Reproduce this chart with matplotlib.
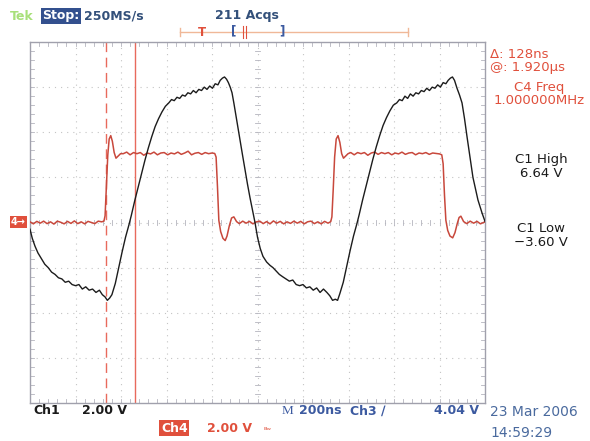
import matplotlib
matplotlib.use("Agg")
import matplotlib.pyplot as plt
import numpy as np

# ---------------- data (time in ns, voltage in V) ----------------
ch1_points = [
    (0, -0.3), (10, -0.7), (22, -1.05), (35, -1.35), (50, -1.6), (65, -1.85), (80, -2.0),
    (95, -2.2), (110, -2.3), (125, -2.45), (140, -2.5), (155, -2.65), (170, -2.6),
    (185, -2.75), (200, -2.8), (215, -2.75), (230, -2.95), (245, -2.85), (260, -3.0),
    (275, -2.95), (290, -3.1), (305, -3.0), (318, -3.2), (330, -3.3), (340, -3.45),
    (350, -3.35), (360, -3.2), (375, -2.7), (390, -2.0), (405, -1.3), (420, -0.65),
    (435, -0.1), (445, 0.3), (460, 0.95), (475, 1.55), (490, 2.15), (505, 2.75),
    (520, 3.3), (535, 3.8), (550, 4.25), (565, 4.6), (580, 4.9), (595, 5.15), (610, 5.3),
    (622, 5.45), (634, 5.4), (646, 5.55), (658, 5.5), (670, 5.65), (682, 5.6), (694, 5.75),
    (706, 5.7), (718, 5.85), (730, 5.75), (742, 5.9), (754, 5.85), (766, 6.0), (778, 5.9),
    (790, 6.05), (802, 5.95), (814, 6.15), (826, 6.1), (836, 6.3), (846, 6.4), (855, 6.45),
    (864, 6.35), (872, 6.2), (880, 6.0), (888, 5.75), (896, 5.3), (905, 4.75), (914, 4.2),
    (923, 3.65), (934, 3.0), (945, 2.35), (956, 1.7), (967, 1.1), (978, 0.55), (989, 0.0),
    (1000, -0.65), (1012, -1.15), (1024, -1.5), (1040, -1.75), (1055, -1.9), (1068, -2.0),
    (1082, -2.15), (1096, -2.3), (1110, -2.4), (1125, -2.5), (1140, -2.6), (1155, -2.55),
    (1170, -2.75), (1185, -2.8), (1200, -2.75), (1215, -2.9), (1230, -2.85), (1245, -3.0),
    (1260, -2.9), (1275, -3.1), (1290, -2.95), (1305, -3.1), (1318, -3.25), (1330, -3.45),
    (1342, -3.4), (1352, -3.45), (1362, -3.15), (1377, -2.65), (1392, -1.95),
    (1407, -1.25), (1422, -0.6), (1437, -0.05), (1447, 0.35), (1462, 1.0), (1477, 1.6),
    (1492, 2.2), (1507, 2.8), (1522, 3.35), (1537, 3.85), (1552, 4.3), (1567, 4.65),
    (1582, 4.95), (1597, 5.2), (1612, 5.3), (1624, 5.45), (1636, 5.4), (1648, 5.6),
    (1660, 5.5), (1672, 5.7), (1684, 5.6), (1696, 5.75), (1708, 5.7), (1720, 5.85),
    (1732, 5.8), (1744, 5.95), (1756, 5.85), (1768, 6.0), (1780, 5.95), (1792, 6.1),
    (1804, 6.0), (1816, 6.2), (1828, 6.15), (1838, 6.3), (1848, 6.4), (1857, 6.45),
    (1866, 6.3), (1877, 5.95), (1888, 5.65), (1899, 5.3), (1910, 4.6), (1921, 3.8),
    (1934, 2.9), (1947, 2.0), (1958, 1.5), (1969, 1.0), (1987, 0.42), (2000, 0.05),
]
ch4_points = [
    (0, 0.03), (15, -0.06), (30, 0.05), (45, -0.03), (60, 0.06), (75, -0.05), (90, 0.03),
    (105, -0.07), (120, 0.06), (135, 0.01), (150, -0.06), (165, 0.05), (180, -0.04),
    (195, 0.07), (210, -0.05), (225, 0.03), (240, -0.06), (255, 0.05), (270, 0.0),
    (285, -0.05), (300, 0.06), (315, 0.03), (325, 0.06), (330, 0.3),
    (336, 1.6), (342, 3.0), (348, 3.7), (355, 3.85), (362, 3.6), (370, 3.1), (378, 2.85),
    (388, 2.95), (398, 3.05),
    (410, 3.05), (425, 3.12), (440, 3.0), (455, 3.1), (470, 3.05), (485, 3.1), (500, 2.98),
    (515, 3.08), (530, 3.04), (545, 3.12), (560, 3.0), (575, 3.08), (590, 3.1), (605, 3.0),
    (620, 3.08), (635, 3.04), (650, 3.12), (665, 3.02), (680, 3.08), (695, 3.16), (710, 3.0),
    (725, 3.07), (740, 3.1), (755, 3.02), (770, 3.1), (785, 3.05), (800, 3.08), (812, 3.06),
    (818, 2.9), (824, 1.6), (830, 0.1), (838, -0.4), (848, -0.7), (858, -0.8), (866, -0.6),
    (876, -0.15), (886, 0.2), (896, 0.25), (908, 0.04),
    (920, -0.05), (935, 0.06), (950, -0.03), (965, 0.05), (980, -0.06), (995, 0.03),
    (1010, 0.06), (1025, -0.05), (1040, 0.04), (1055, -0.06), (1070, 0.07), (1085, -0.03),
    (1100, 0.05), (1115, -0.06), (1130, 0.03), (1145, -0.04), (1160, 0.06), (1175, -0.03),
    (1190, 0.05), (1205, -0.06), (1220, 0.03), (1235, 0.06), (1250, -0.05), (1265, 0.03),
    (1280, -0.06), (1295, 0.05), (1310, -0.03), (1322, 0.04), (1327, 0.25),
    (1333, 1.5), (1339, 2.9), (1346, 3.7), (1354, 3.85), (1362, 3.55), (1370, 3.05),
    (1378, 2.85), (1388, 2.95), (1398, 3.05),
    (1410, 3.1), (1425, 3.0), (1440, 3.1), (1455, 3.05), (1470, 3.1), (1485, 2.98),
    (1500, 3.08), (1515, 3.12), (1530, 3.02), (1545, 3.1), (1560, 3.05), (1575, 3.1),
    (1590, 3.0), (1605, 3.08), (1620, 3.04), (1635, 3.12), (1650, 3.02), (1665, 3.08),
    (1680, 3.1), (1695, 3.0), (1710, 3.08), (1725, 3.05), (1740, 3.1), (1755, 3.02),
    (1770, 3.08), (1785, 3.06), (1800, 3.04), (1810, 3.0),
    (1816, 2.6), (1822, 1.2), (1828, 0.1), (1836, -0.35), (1846, -0.6), (1858, -0.68),
    (1868, -0.45), (1878, -0.05), (1886, 0.22), (1894, 0.28), (1906, 0.04),
    (1920, -0.05), (1935, 0.06), (1950, -0.03), (1965, 0.05), (1980, -0.06), (2000, 0.03),
]
ch1_t = [p[0] for p in ch1_points]
ch1_v = [p[1] for p in ch1_points]
ch4_t = [p[0] for p in ch4_points]
ch4_v = [p[1] for p in ch4_points]

cursor_t = [334, 462]          # ns, dashed then solid
time_per_div = 200             # ns
volt_per_div = 2.0             # V

# ---------------- figure ----------------
W, H = 590, 441
fig = plt.figure(figsize=(W / 100, H / 100), dpi=100)
fig.patch.set_facecolor("white")


def fx(px):
    return px / W


def fy(py):
    return 1 - py / H


ax = fig.add_axes([fx(30), fy(403), fx(485) - fx(30), fy(42) - fy(403)])
ax.set_xlim(0, 10 * time_per_div)
ax.set_ylim(-4 * volt_per_div, 4 * volt_per_div)
ax.set_xticks([])
ax.set_yticks([])
for s in ax.spines.values():
    s.set_color("#a0a0ac")
    s.set_linewidth(1.0)

grid_c = "#c4c4c4"
for i in range(1, 10):
    ax.axvline(i * time_per_div, color=grid_c, lw=0.8, ls=(0, (1, 4.5)), zorder=1)
for j in range(-3, 4):
    ax.axhline(j * volt_per_div, color=grid_c, lw=0.8, ls=(0, (1, 4.5)), zorder=1)

xm = np.arange(0, 10 * time_per_div + 1, time_per_div / 5)
ym = np.arange(-4 * volt_per_div, 4 * volt_per_div + 0.01, volt_per_div / 5)
tx = 0.11          # V  (about 2.5 px)
ty = 11.0          # ns (about 2.5 px)
tick_c = "#b4b4be"
for x in xm:
    ax.plot([x, x], [-tx, tx], color=tick_c, lw=0.6, zorder=1)
    ax.plot([x, x], [4 * volt_per_div, 4 * volt_per_div - 1.6 * tx], color=tick_c, lw=0.6, zorder=1)
    ax.plot([x, x], [-4 * volt_per_div, -4 * volt_per_div + 1.6 * tx], color=tick_c, lw=0.6, zorder=1)
for y in ym:
    ax.plot([5 * time_per_div - ty, 5 * time_per_div + ty], [y, y], color=tick_c, lw=0.6, zorder=1)
    ax.plot([0, 1.6 * ty], [y, y], color=tick_c, lw=0.6, zorder=1)
    ax.plot([10 * time_per_div, 10 * time_per_div - 1.6 * ty], [y, y], color=tick_c, lw=0.6, zorder=1)

cur_c = "#e86a5c"
ax.axvline(cursor_t[0], color=cur_c, lw=1.0, ls=(0, (7, 4)), zorder=2)
ax.axvline(cursor_t[1], color=cur_c, lw=1.0, zorder=2)

ax.plot(ch4_t, ch4_v, color="#c8483c", lw=1.1, zorder=3)
ax.plot(ch1_t, ch1_v, color="#1c1c1c", lw=1.0, zorder=4)

# ---------------- annotations ----------------
FONT = "DejaVu Sans"
red = "#e0503c"
blue = "#3c5aa0"
dark = "#1a1a1a"


def t(px, py, s, color, size=9, ha="left", weight="bold", family=FONT, **kw):
    fig.text(fx(px), fy(py), s, color=color, fontsize=size, ha=ha, va="center",
             family=family, weight=weight, **kw)


t(10, 16, "Tek", "#a8e07a", 9)
t(42, 16, "Stop:", "white", 9,
  bbox=dict(boxstyle="square,pad=0.12", fc="#33508e", ec="none"))
t(84, 16, "250MS/s", "#33507a", 9)
t(215, 16, "211 Acqs", "#33507a", 9)

bar_c = "#f0b898"


def fline(x0, y0, x1, y1, color, lw=1.0):
    fig.add_artist(plt.Line2D([fx(x0), fx(x1)], [fy(y0), fy(y1)], color=color, lw=lw,
                              transform=fig.transFigure))


fline(180, 32, 408, 32, bar_c)
fline(180, 28, 180, 36, bar_c)
fline(408, 28, 408, 36, bar_c)
t(202, 32, "T", red, 8.5, ha="center", weight="bold")
t(234, 31, "[", blue, 8.5, ha="center", weight="bold")
t(282, 31, "]", blue, 8.5, ha="center", weight="bold")
fline(243, 26, 243, 38, red, 0.8)
fline(246, 26, 246, 38, red, 0.8)

t(11, 222, "4\u2192", "white", 7,
  bbox=dict(boxstyle="square,pad=0.15", fc="#e0503c", ec="none"))

t(490, 55, "\u0394: 128ns", red, 9.5, weight="normal")
t(490, 68, "@: 1.920\u00b5s", red, 9.5, weight="normal")
t(539, 88, "C4 Freq", red, 9.5, ha="center", weight="normal")
t(539, 101, "1.000000MHz", red, 9.5, ha="center", weight="normal")
t(541, 160, "C1 High", dark, 9.5, ha="center", weight="normal")
t(541, 173, "6.64 V", dark, 9.5, ha="center", weight="normal")
t(541, 229, "C1 Low", dark, 9.5, ha="center", weight="normal")
t(541, 242, "\u22123.60 V", dark, 9.5, ha="center", weight="normal")

t(33, 411, "Ch1", dark, 9)
t(82, 411, "2.00 V", dark, 9)
t(282, 411, "M", blue, 9.5, weight="normal", family="Liberation Serif")
t(299, 411, "200ns", blue, 9)
t(350, 411, "Ch3 \u2215", blue, 9)
t(434, 410, "4.04 V", blue, 9)
t(161, 428, "Ch4", "white", 9,
  bbox=dict(boxstyle="square,pad=0.12", fc="#e0503c", ec="none"))
t(207, 428, "2.00 V", red, 9)
t(264, 430, "\u1d2e\u02b7", red, 6, weight="normal")
t(490, 412, "23 Mar 2006", "#4a6a9e", 10, weight="normal")
t(490, 433, "14:59:29", "#4a6a9e", 10, weight="normal")

fig.savefig("out.png", dpi=100)
